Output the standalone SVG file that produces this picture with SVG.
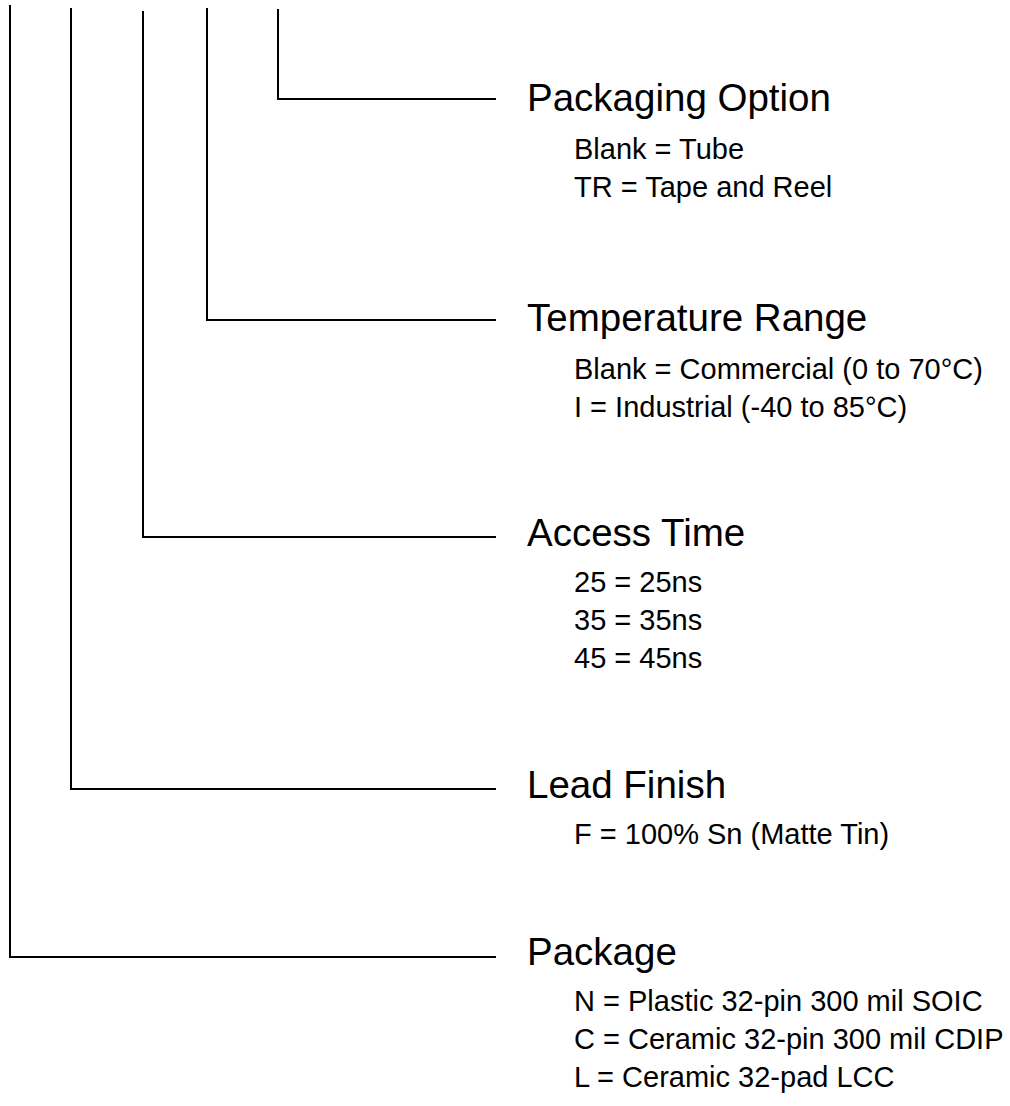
<svg xmlns="http://www.w3.org/2000/svg" width="1010" height="1106" viewBox="0 0 1010 1106">
<style>
.ln{fill:none;stroke:#000;stroke-width:2;stroke-linecap:butt;stroke-linejoin:miter}
.t{font-family:"Liberation Sans",Arial,sans-serif;font-size:38.5px;fill:#000}
.s{font-family:"Liberation Sans",Arial,sans-serif;font-size:29px;fill:#000}
</style>
<rect width="1010" height="1106" fill="#fff"/>
<g id="connectors">
<polyline class="ln" points="278,9 278,99 496,99"/>
<polyline class="ln" points="207,8 207,320 496,320"/>
<polyline class="ln" points="143,11 143,537 496,537"/>
<polyline class="ln" points="71,8 71,789 496,789"/>
<polyline class="ln" points="10,5 10,957 496,957"/>
</g>
<g id="packaging-option">
<text class="t" x="527" y="111">Packaging Option</text>
<text class="s" x="574" y="159">Blank = Tube</text>
<text class="s" x="574" y="197">TR = Tape and Reel</text>
</g>
<g id="temperature-range">
<text class="t" x="527" y="331">Temperature Range</text>
<text class="s" x="574" y="379">Blank = Commercial (0 to 70°C)</text>
<text class="s" x="574" y="417">I = Industrial (-40 to 85°C)</text>
</g>
<g id="access-time">
<text class="t" x="527" y="546">Access Time</text>
<text class="s" x="574" y="592">25 = 25ns</text>
<text class="s" x="574" y="630">35 = 35ns</text>
<text class="s" x="574" y="668">45 = 45ns</text>
</g>
<g id="lead-finish">
<text class="t" x="527" y="798">Lead Finish</text>
<text class="s" x="574" y="844">F = 100% Sn (Matte Tin)</text>
</g>
<g id="package">
<text class="t" x="527" y="965">Package</text>
<text class="s" x="574" y="1011">N = Plastic 32-pin 300 mil SOIC</text>
<text class="s" x="574" y="1049">C = Ceramic 32-pin 300 mil CDIP</text>
<text class="s" x="574" y="1087">L = Ceramic 32-pad LCC</text>
</g>
</svg>
